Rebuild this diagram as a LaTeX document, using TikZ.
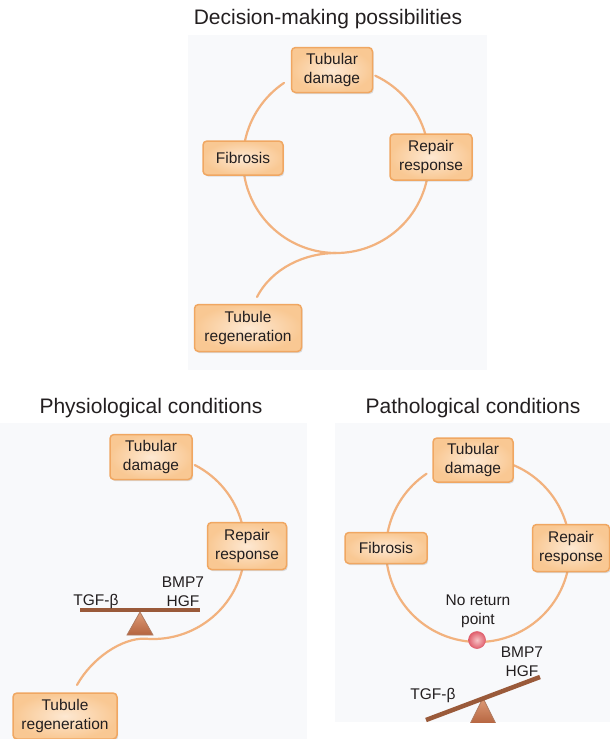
\documentclass[tikz,border=0pt]{standalone}
\usepackage{fontspec}
\setmainfont{Liberation Sans}
\usetikzlibrary{shadows}
\definecolor{panelbg}{HTML}{F8F9FB}
\definecolor{boxedge}{HTML}{F0A762}
\definecolor{boxin}{HTML}{FDE8D2}
\definecolor{boxout}{HTML}{F9C893}
\definecolor{flowc}{HTML}{F2B27E}
\definecolor{barc}{HTML}{9A5A3A}
\definecolor{fultop}{HTML}{DE9C78}
\definecolor{fulbot}{HTML}{B5643F}
\definecolor{dotin}{HTML}{F7C3C6}
\definecolor{dotout}{HTML}{E0606E}
\definecolor{txt}{HTML}{231F20}
\begin{document}
\begin{tikzpicture}[x=1pt,y=-1pt,
  box/.style={draw=boxedge, line width=1.5pt, rounded corners=4pt,
    inner color=boxin, outer color=boxout, align=center, text=txt,
    font=\fontsize{15.5}{18.5}\selectfont, inner sep=2pt,
    drop shadow={shadow xshift=1.2pt, shadow yshift=-1.5pt, opacity=0.2, fill=black!60}},
  ttl/.style={font=\fontsize{21}{25}\selectfont, text=txt},
  lbl/.style={font=\fontsize{15.5}{19}\selectfont, text=txt, align=center, inner sep=0pt},
  flow/.style={draw=flowc, line width=2.2pt, line cap=round},
  barline/.style={draw=barc, line width=4.5pt},
  fulcrum/.style={draw=barc!80, line width=0.8pt, top color=fultop, bottom color=fulbot}
]
\useasboundingbox (0,0) rectangle (610,739);
% panels
\fill[panelbg] (188,35) rectangle (487,370);
\fill[panelbg] (0,423) rectangle (307,739);
\fill[panelbg] (335,423) rectangle (610,722);
% titles
\node[ttl] (t1) at (328,19) {Decision-making possibilities};
\node[ttl] (t2) at (151,408) {Physiological conditions};
\node[ttl] (t3) at (473,408) {Pathological conditions};

% ---------- top panel ----------
\coordinate (c1) at (336,160);
\coordinate (s1end) at (257,297);
\draw[flow] ([shift={(c1)}]-65:93) arc[start angle=-65, end angle=-16, radius=93];
\draw[flow] ([shift={(c1)}]12:93) arc[start angle=12, end angle=171, radius=93];
\draw[flow] ([shift={(c1)}]192:93) arc[start angle=192, end angle=236, radius=93];
\draw[flow] ([shift={(c1)}]90:93) .. controls (305,253) and (272,268) .. (s1end);
\node[box, minimum width=81pt, minimum height=45pt] (td1) at (332,70) {Tubular\\damage};
\node[box, minimum width=80pt, minimum height=34pt] (fb1) at (243,158) {Fibrosis};
\node[box, minimum width=82pt, minimum height=46pt] (rr1) at (431,157) {Repair\\response};
\node[box, minimum width=107pt, minimum height=47pt] (tr1) at (248,328) {Tubule\\regeneration};

% ---------- bottom-left panel ----------
\coordinate (c2) at (153,547);
\coordinate (s2end) at (77,685);
\draw[flow] ([shift={(c2)}]-63:92) arc[start angle=-63, end angle=-15, radius=92];
\draw[flow] ([shift={(c2)}]14:92) arc[start angle=14, end angle=95, radius=92]
   .. controls (122,638) and (92,658) .. (s2end);
\node[box, minimum width=82pt, minimum height=45pt] (td2) at (151,457) {Tubular\\damage};
\node[box, minimum width=79pt, minimum height=47pt] (rr2) at (247,546) {Repair\\response};
\node[box, minimum width=104pt, minimum height=46pt] (tr2) at (65,716) {Tubule\\regeneration};
\coordinate (f2a) at (140,612);
\coordinate (f2b) at (153,635);
\coordinate (f2c) at (127,635);
\draw[fulcrum] (f2a) -- (f2b) -- (f2c) -- cycle;
\coordinate (b2l) at (80,610);
\coordinate (b2r) at (200,610);
\draw[barline] (b2l) -- (b2r);
\node[lbl] (tgf2) at (96,601) {TGF-β};
\node[lbl] (bmp2) at (183,592) {BMP7\\HGF};

% ---------- bottom-right panel ----------
\coordinate (c3) at (478,550);
\draw[flow] ([shift={(c3)}]-67:92) arc[start angle=-67, end angle=-16, radius=92];
\draw[flow] ([shift={(c3)}]14:92) arc[start angle=14, end angle=172, radius=92];
\draw[flow] ([shift={(c3)}]191:92) arc[start angle=191, end angle=236, radius=92];
\node[box, minimum width=80pt, minimum height=44pt] (td3) at (473,460) {Tubular\\damage};
\node[box, minimum width=82pt, minimum height=31pt] (fb3) at (386,548) {Fibrosis};
\node[box, minimum width=77pt, minimum height=47pt] (rr3) at (571,548) {Repair\\response};
\node[lbl] (nrp) at (478,611) {No return\\point};
\node[circle, minimum size=17pt, inner sep=0pt, draw=dotout, line width=0.6pt,
      inner color=dotin, outer color=dotout] (dot3) at (477,640) {};
\node[lbl] (tgf3) at (433,695) {TGF-β};
\node[lbl] (bmp3) at (522,662) {BMP7\\HGF};
\begin{scope}
  \clip (335,423) rectangle (610,722);
  \coordinate (f3a) at (483,698);
  \coordinate (f3b) at (496,724);
  \coordinate (f3c) at (470,724);
  \draw[fulcrum] (f3a) -- (f3b) -- (f3c) -- cycle;
  \coordinate (b3l) at (426,720);
  \coordinate (b3r) at (540,677);
  \draw[barline] (b3l) -- (b3r);
\end{scope}
\end{tikzpicture}
\end{document}
